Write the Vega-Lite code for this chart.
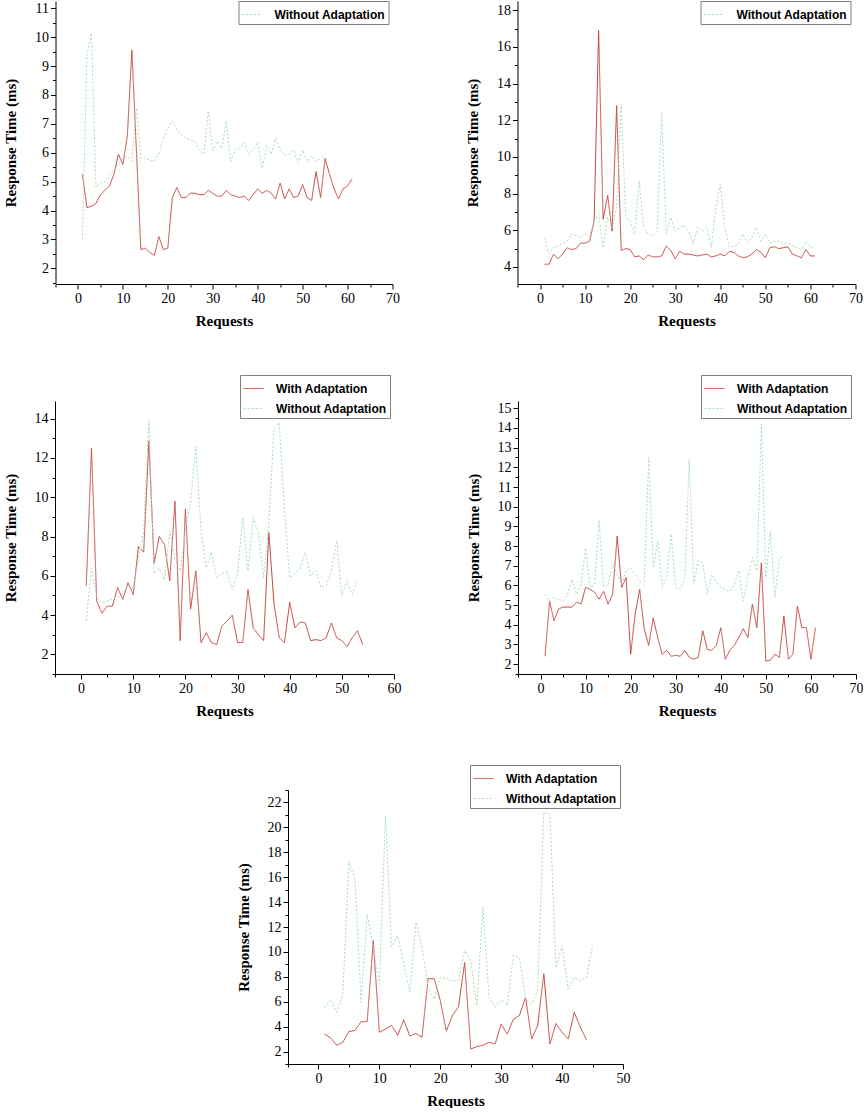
{
"$schema":"https://vega.github.io/schema/vega-lite/v6.json",
"padding":{"left":3,"top":0,"right":0,"bottom":0},
"background":"white",
"config":{"view":{"stroke":null},
 "axis":{"grid":false,"domainColor":"black","tickColor":"black","labelFont":"Liberation Serif","labelFontSize":14,"labelColor":"black","titleFont":"Liberation Serif","titleFontSize":15,"titleFontWeight":"bold","titleColor":"black","labelFlush":false,"labelOverlap":false,"labelPadding":2,"format":"d"},
 "axisY":{"titlePadding":16},"axisX":{"titlePadding":8},
 "legend":{"title":null,"symbolType":"stroke","symbolSize":400,"symbolStrokeWidth":1,"labelFont":"Liberation Sans","labelFontWeight":"bold","labelFontSize":12,"labelColor":"black","strokeColor":"#808080","fillColor":"white","padding":3,"rowPadding":3,"labelOffset":12}},
"datasets":{
"p1":[
{"request":1,"time":5.25,"series":"With Adaptation"},{"request":2,"time":4.1,"series":"With Adaptation"},{"request":3,"time":4.15,"series":"With Adaptation"},{"request":4,"time":4.25,"series":"With Adaptation"},{"request":5,"time":4.55,"series":"With Adaptation"},{"request":6,"time":4.7,"series":"With Adaptation"},{"request":7,"time":4.85,"series":"With Adaptation"},{"request":8,"time":5.25,"series":"With Adaptation"},{"request":9,"time":5.95,"series":"With Adaptation"},{"request":10,"time":5.6,"series":"With Adaptation"},{"request":11,"time":6.6,"series":"With Adaptation"},{"request":12,"time":9.55,"series":"With Adaptation"},{"request":13,"time":6.1,"series":"With Adaptation"},{"request":14,"time":2.65,"series":"With Adaptation"},{"request":15,"time":2.7,"series":"With Adaptation"},{"request":16,"time":2.55,"series":"With Adaptation"},{"request":17,"time":2.45,"series":"With Adaptation"},{"request":18,"time":3.1,"series":"With Adaptation"},{"request":19,"time":2.65,"series":"With Adaptation"},{"request":20,"time":2.7,"series":"With Adaptation"},{"request":21,"time":4.45,"series":"With Adaptation"},{"request":22,"time":4.8,"series":"With Adaptation"},{"request":23,"time":4.45,"series":"With Adaptation"},{"request":24,"time":4.45,"series":"With Adaptation"},{"request":25,"time":4.6,"series":"With Adaptation"},{"request":26,"time":4.6,"series":"With Adaptation"},{"request":27,"time":4.55,"series":"With Adaptation"},{"request":28,"time":4.55,"series":"With Adaptation"},{"request":29,"time":4.7,"series":"With Adaptation"},{"request":30,"time":4.6,"series":"With Adaptation"},{"request":31,"time":4.5,"series":"With Adaptation"},{"request":32,"time":4.5,"series":"With Adaptation"},{"request":33,"time":4.7,"series":"With Adaptation"},{"request":34,"time":4.55,"series":"With Adaptation"},{"request":35,"time":4.5,"series":"With Adaptation"},{"request":36,"time":4.45,"series":"With Adaptation"},{"request":37,"time":4.5,"series":"With Adaptation"},{"request":38,"time":4.35,"series":"With Adaptation"},{"request":39,"time":4.55,"series":"With Adaptation"},{"request":40,"time":4.75,"series":"With Adaptation"},{"request":41,"time":4.6,"series":"With Adaptation"},{"request":42,"time":4.7,"series":"With Adaptation"},{"request":43,"time":4.6,"series":"With Adaptation"},{"request":44,"time":4.4,"series":"With Adaptation"},{"request":45,"time":4.95,"series":"With Adaptation"},{"request":46,"time":4.4,"series":"With Adaptation"},{"request":47,"time":4.75,"series":"With Adaptation"},{"request":48,"time":4.45,"series":"With Adaptation"},{"request":49,"time":4.5,"series":"With Adaptation"},{"request":50,"time":4.9,"series":"With Adaptation"},{"request":51,"time":4.45,"series":"With Adaptation"},{"request":52,"time":4.35,"series":"With Adaptation"},{"request":53,"time":5.35,"series":"With Adaptation"},{"request":54,"time":4.45,"series":"With Adaptation"},{"request":55,"time":5.8,"series":"With Adaptation"},{"request":56,"time":5.25,"series":"With Adaptation"},{"request":57,"time":4.75,"series":"With Adaptation"},{"request":58,"time":4.4,"series":"With Adaptation"},{"request":59,"time":4.75,"series":"With Adaptation"},{"request":60,"time":4.85,"series":"With Adaptation"},{"request":61,"time":5.1,"series":"With Adaptation"},
{"request":1,"time":3.0,"series":"Without Adaptation"},{"request":2,"time":9.4,"series":"Without Adaptation"},{"request":3,"time":10.15,"series":"Without Adaptation"},{"request":4,"time":4.8,"series":"Without Adaptation"},{"request":5,"time":4.95,"series":"Without Adaptation"},{"request":6,"time":5.0,"series":"Without Adaptation"},{"request":7,"time":5.2,"series":"Without Adaptation"},{"request":8,"time":5.4,"series":"Without Adaptation"},{"request":9,"time":5.6,"series":"Without Adaptation"},{"request":10,"time":5.8,"series":"Without Adaptation"},{"request":11,"time":5.85,"series":"Without Adaptation"},{"request":12,"time":5.7,"series":"Without Adaptation"},{"request":13,"time":7.55,"series":"Without Adaptation"},{"request":14,"time":5.8,"series":"Without Adaptation"},{"request":15,"time":5.8,"series":"Without Adaptation"},{"request":16,"time":5.75,"series":"Without Adaptation"},{"request":17,"time":5.7,"series":"Without Adaptation"},{"request":18,"time":5.95,"series":"Without Adaptation"},{"request":19,"time":6.5,"series":"Without Adaptation"},{"request":20,"time":6.85,"series":"Without Adaptation"},{"request":21,"time":7.1,"series":"Without Adaptation"},{"request":22,"time":6.8,"series":"Without Adaptation"},{"request":23,"time":6.65,"series":"Without Adaptation"},{"request":24,"time":6.5,"series":"Without Adaptation"},{"request":25,"time":6.45,"series":"Without Adaptation"},{"request":26,"time":6.4,"series":"Without Adaptation"},{"request":27,"time":6.1,"series":"Without Adaptation"},{"request":28,"time":5.95,"series":"Without Adaptation"},{"request":29,"time":7.45,"series":"Without Adaptation"},{"request":30,"time":6.05,"series":"Without Adaptation"},{"request":31,"time":6.4,"series":"Without Adaptation"},{"request":32,"time":6.15,"series":"Without Adaptation"},{"request":33,"time":7.1,"series":"Without Adaptation"},{"request":34,"time":5.7,"series":"Without Adaptation"},{"request":35,"time":6.1,"series":"Without Adaptation"},{"request":36,"time":6.15,"series":"Without Adaptation"},{"request":37,"time":6.35,"series":"Without Adaptation"},{"request":38,"time":5.95,"series":"Without Adaptation"},{"request":39,"time":6.1,"series":"Without Adaptation"},{"request":40,"time":6.35,"series":"Without Adaptation"},{"request":41,"time":5.45,"series":"Without Adaptation"},{"request":42,"time":6.25,"series":"Without Adaptation"},{"request":43,"time":5.95,"series":"Without Adaptation"},{"request":44,"time":6.5,"series":"Without Adaptation"},{"request":45,"time":6.1,"series":"Without Adaptation"},{"request":46,"time":5.9,"series":"Without Adaptation"},{"request":47,"time":5.95,"series":"Without Adaptation"},{"request":48,"time":6.1,"series":"Without Adaptation"},{"request":49,"time":5.65,"series":"Without Adaptation"},{"request":50,"time":6.1,"series":"Without Adaptation"},{"request":51,"time":5.7,"series":"Without Adaptation"},{"request":52,"time":5.9,"series":"Without Adaptation"},{"request":53,"time":5.7,"series":"Without Adaptation"},{"request":54,"time":5.8,"series":"Without Adaptation"},{"request":55,"time":5.9,"series":"Without Adaptation"}
],
"p2":[
{"request":1,"time":4.15,"series":"With Adaptation"},{"request":2,"time":4.15,"series":"With Adaptation"},{"request":3,"time":4.7,"series":"With Adaptation"},{"request":4,"time":4.45,"series":"With Adaptation"},{"request":5,"time":4.7,"series":"With Adaptation"},{"request":6,"time":5.05,"series":"With Adaptation"},{"request":7,"time":4.95,"series":"With Adaptation"},{"request":8,"time":5.0,"series":"With Adaptation"},{"request":9,"time":5.3,"series":"With Adaptation"},{"request":10,"time":5.3,"series":"With Adaptation"},{"request":11,"time":5.4,"series":"With Adaptation"},{"request":12,"time":6.5,"series":"With Adaptation"},{"request":13,"time":16.9,"series":"With Adaptation"},{"request":14,"time":6.6,"series":"With Adaptation"},{"request":15,"time":7.9,"series":"With Adaptation"},{"request":16,"time":5.95,"series":"With Adaptation"},{"request":17,"time":12.8,"series":"With Adaptation"},{"request":18,"time":4.9,"series":"With Adaptation"},{"request":19,"time":5.0,"series":"With Adaptation"},{"request":20,"time":4.95,"series":"With Adaptation"},{"request":21,"time":4.55,"series":"With Adaptation"},{"request":22,"time":4.6,"series":"With Adaptation"},{"request":23,"time":4.4,"series":"With Adaptation"},{"request":24,"time":4.65,"series":"With Adaptation"},{"request":25,"time":4.55,"series":"With Adaptation"},{"request":26,"time":4.55,"series":"With Adaptation"},{"request":27,"time":4.6,"series":"With Adaptation"},{"request":28,"time":5.15,"series":"With Adaptation"},{"request":29,"time":4.9,"series":"With Adaptation"},{"request":30,"time":4.45,"series":"With Adaptation"},{"request":31,"time":4.85,"series":"With Adaptation"},{"request":32,"time":4.7,"series":"With Adaptation"},{"request":33,"time":4.7,"series":"With Adaptation"},{"request":34,"time":4.65,"series":"With Adaptation"},{"request":35,"time":4.6,"series":"With Adaptation"},{"request":36,"time":4.65,"series":"With Adaptation"},{"request":37,"time":4.7,"series":"With Adaptation"},{"request":38,"time":4.55,"series":"With Adaptation"},{"request":39,"time":4.6,"series":"With Adaptation"},{"request":40,"time":4.7,"series":"With Adaptation"},{"request":41,"time":4.6,"series":"With Adaptation"},{"request":42,"time":4.85,"series":"With Adaptation"},{"request":43,"time":4.8,"series":"With Adaptation"},{"request":44,"time":4.6,"series":"With Adaptation"},{"request":45,"time":4.5,"series":"With Adaptation"},{"request":46,"time":4.55,"series":"With Adaptation"},{"request":47,"time":4.7,"series":"With Adaptation"},{"request":48,"time":4.95,"series":"With Adaptation"},{"request":49,"time":4.8,"series":"With Adaptation"},{"request":50,"time":4.5,"series":"With Adaptation"},{"request":51,"time":5.05,"series":"With Adaptation"},{"request":52,"time":5.1,"series":"With Adaptation"},{"request":53,"time":5.0,"series":"With Adaptation"},{"request":54,"time":5.05,"series":"With Adaptation"},{"request":55,"time":5.1,"series":"With Adaptation"},{"request":56,"time":4.7,"series":"With Adaptation"},{"request":57,"time":4.6,"series":"With Adaptation"},{"request":58,"time":4.5,"series":"With Adaptation"},{"request":59,"time":4.95,"series":"With Adaptation"},{"request":60,"time":4.6,"series":"With Adaptation"},{"request":61,"time":4.6,"series":"With Adaptation"},
{"request":1,"time":5.6,"series":"Without Adaptation"},{"request":2,"time":4.7,"series":"Without Adaptation"},{"request":3,"time":5.05,"series":"Without Adaptation"},{"request":4,"time":5.15,"series":"Without Adaptation"},{"request":5,"time":5.25,"series":"Without Adaptation"},{"request":6,"time":5.4,"series":"Without Adaptation"},{"request":7,"time":5.8,"series":"Without Adaptation"},{"request":8,"time":5.7,"series":"Without Adaptation"},{"request":9,"time":5.6,"series":"Without Adaptation"},{"request":10,"time":5.8,"series":"Without Adaptation"},{"request":11,"time":5.7,"series":"Without Adaptation"},{"request":12,"time":6.5,"series":"Without Adaptation"},{"request":13,"time":6.9,"series":"Without Adaptation"},{"request":14,"time":5.05,"series":"Without Adaptation"},{"request":15,"time":6.7,"series":"Without Adaptation"},{"request":16,"time":6.15,"series":"Without Adaptation"},{"request":17,"time":7.25,"series":"Without Adaptation"},{"request":18,"time":12.9,"series":"Without Adaptation"},{"request":19,"time":6.7,"series":"Without Adaptation"},{"request":20,"time":6.5,"series":"Without Adaptation"},{"request":21,"time":5.8,"series":"Without Adaptation"},{"request":22,"time":8.7,"series":"Without Adaptation"},{"request":23,"time":6.15,"series":"Without Adaptation"},{"request":24,"time":5.8,"series":"Without Adaptation"},{"request":25,"time":5.7,"series":"Without Adaptation"},{"request":26,"time":5.95,"series":"Without Adaptation"},{"request":27,"time":12.4,"series":"Without Adaptation"},{"request":28,"time":5.8,"series":"Without Adaptation"},{"request":29,"time":6.7,"series":"Without Adaptation"},{"request":30,"time":5.95,"series":"Without Adaptation"},{"request":31,"time":6.15,"series":"Without Adaptation"},{"request":32,"time":6.25,"series":"Without Adaptation"},{"request":33,"time":5.95,"series":"Without Adaptation"},{"request":34,"time":5.25,"series":"Without Adaptation"},{"request":35,"time":6.15,"series":"Without Adaptation"},{"request":36,"time":5.95,"series":"Without Adaptation"},{"request":37,"time":6.15,"series":"Without Adaptation"},{"request":38,"time":5.05,"series":"Without Adaptation"},{"request":39,"time":7.25,"series":"Without Adaptation"},{"request":40,"time":8.5,"series":"Without Adaptation"},{"request":41,"time":6.15,"series":"Without Adaptation"},{"request":42,"time":5.05,"series":"Without Adaptation"},{"request":43,"time":5.15,"series":"Without Adaptation"},{"request":44,"time":5.25,"series":"Without Adaptation"},{"request":45,"time":5.8,"series":"Without Adaptation"},{"request":46,"time":5.3,"series":"Without Adaptation"},{"request":47,"time":5.6,"series":"Without Adaptation"},{"request":48,"time":6.15,"series":"Without Adaptation"},{"request":49,"time":5.4,"series":"Without Adaptation"},{"request":50,"time":5.8,"series":"Without Adaptation"},{"request":51,"time":5.3,"series":"Without Adaptation"},{"request":52,"time":5.4,"series":"Without Adaptation"},{"request":53,"time":5.4,"series":"Without Adaptation"},{"request":54,"time":5.25,"series":"Without Adaptation"},{"request":55,"time":5.3,"series":"Without Adaptation"},{"request":56,"time":5.15,"series":"Without Adaptation"},{"request":57,"time":5.05,"series":"Without Adaptation"},{"request":58,"time":4.95,"series":"Without Adaptation"},{"request":59,"time":5.4,"series":"Without Adaptation"},{"request":60,"time":5.05,"series":"Without Adaptation"},{"request":61,"time":5.15,"series":"Without Adaptation"}
],
"p3":[
{"request":1,"time":5.5,"series":"With Adaptation"},{"request":2,"time":12.5,"series":"With Adaptation"},{"request":3,"time":4.7,"series":"With Adaptation"},{"request":4,"time":4.1,"series":"With Adaptation"},{"request":5,"time":4.45,"series":"With Adaptation"},{"request":6,"time":4.45,"series":"With Adaptation"},{"request":7,"time":5.4,"series":"With Adaptation"},{"request":8,"time":4.8,"series":"With Adaptation"},{"request":9,"time":5.65,"series":"With Adaptation"},{"request":10,"time":5.05,"series":"With Adaptation"},{"request":11,"time":7.5,"series":"With Adaptation"},{"request":12,"time":7.2,"series":"With Adaptation"},{"request":13,"time":12.85,"series":"With Adaptation"},{"request":14,"time":6.65,"series":"With Adaptation"},{"request":15,"time":8.0,"series":"With Adaptation"},{"request":16,"time":7.6,"series":"With Adaptation"},{"request":17,"time":5.75,"series":"With Adaptation"},{"request":18,"time":9.8,"series":"With Adaptation"},{"request":19,"time":2.7,"series":"With Adaptation"},{"request":20,"time":9.4,"series":"With Adaptation"},{"request":21,"time":4.3,"series":"With Adaptation"},{"request":22,"time":6.25,"series":"With Adaptation"},{"request":23,"time":2.6,"series":"With Adaptation"},{"request":24,"time":3.1,"series":"With Adaptation"},{"request":25,"time":2.6,"series":"With Adaptation"},{"request":26,"time":2.5,"series":"With Adaptation"},{"request":27,"time":3.45,"series":"With Adaptation"},{"request":28,"time":3.7,"series":"With Adaptation"},{"request":29,"time":4.0,"series":"With Adaptation"},{"request":30,"time":2.6,"series":"With Adaptation"},{"request":31,"time":2.6,"series":"With Adaptation"},{"request":32,"time":5.3,"series":"With Adaptation"},{"request":33,"time":3.35,"series":"With Adaptation"},{"request":34,"time":3.0,"series":"With Adaptation"},{"request":35,"time":2.7,"series":"With Adaptation"},{"request":36,"time":8.2,"series":"With Adaptation"},{"request":37,"time":4.55,"series":"With Adaptation"},{"request":38,"time":2.85,"series":"With Adaptation"},{"request":39,"time":2.6,"series":"With Adaptation"},{"request":40,"time":4.65,"series":"With Adaptation"},{"request":41,"time":3.35,"series":"With Adaptation"},{"request":42,"time":3.65,"series":"With Adaptation"},{"request":43,"time":3.6,"series":"With Adaptation"},{"request":44,"time":2.7,"series":"With Adaptation"},{"request":45,"time":2.75,"series":"With Adaptation"},{"request":46,"time":2.7,"series":"With Adaptation"},{"request":47,"time":2.85,"series":"With Adaptation"},{"request":48,"time":3.6,"series":"With Adaptation"},{"request":49,"time":2.85,"series":"With Adaptation"},{"request":50,"time":2.7,"series":"With Adaptation"},{"request":51,"time":2.4,"series":"With Adaptation"},{"request":52,"time":2.85,"series":"With Adaptation"},{"request":53,"time":3.2,"series":"With Adaptation"},{"request":54,"time":2.5,"series":"With Adaptation"},
{"request":1,"time":3.7,"series":"Without Adaptation"},{"request":2,"time":6.4,"series":"Without Adaptation"},{"request":3,"time":4.9,"series":"Without Adaptation"},{"request":4,"time":4.6,"series":"Without Adaptation"},{"request":5,"time":4.7,"series":"Without Adaptation"},{"request":6,"time":4.8,"series":"Without Adaptation"},{"request":7,"time":4.9,"series":"Without Adaptation"},{"request":8,"time":5.05,"series":"Without Adaptation"},{"request":9,"time":5.5,"series":"Without Adaptation"},{"request":10,"time":5.4,"series":"Without Adaptation"},{"request":11,"time":6.9,"series":"Without Adaptation"},{"request":12,"time":8.3,"series":"Without Adaptation"},{"request":13,"time":13.9,"series":"Without Adaptation"},{"request":14,"time":6.1,"series":"Without Adaptation"},{"request":15,"time":6.4,"series":"Without Adaptation"},{"request":16,"time":5.8,"series":"Without Adaptation"},{"request":17,"time":8.3,"series":"Without Adaptation"},{"request":18,"time":6.9,"series":"Without Adaptation"},{"request":19,"time":6.25,"series":"Without Adaptation"},{"request":20,"time":8.3,"series":"Without Adaptation"},{"request":21,"time":9.8,"series":"Without Adaptation"},{"request":22,"time":12.6,"series":"Without Adaptation"},{"request":23,"time":8.3,"series":"Without Adaptation"},{"request":24,"time":6.4,"series":"Without Adaptation"},{"request":25,"time":7.2,"series":"Without Adaptation"},{"request":26,"time":5.9,"series":"Without Adaptation"},{"request":27,"time":6.1,"series":"Without Adaptation"},{"request":28,"time":6.25,"series":"Without Adaptation"},{"request":29,"time":5.3,"series":"Without Adaptation"},{"request":30,"time":6.1,"series":"Without Adaptation"},{"request":31,"time":8.95,"series":"Without Adaptation"},{"request":32,"time":6.25,"series":"Without Adaptation"},{"request":33,"time":8.95,"series":"Without Adaptation"},{"request":34,"time":8.2,"series":"Without Adaptation"},{"request":35,"time":5.9,"series":"Without Adaptation"},{"request":36,"time":8.6,"series":"Without Adaptation"},{"request":37,"time":13.5,"series":"Without Adaptation"},{"request":38,"time":13.8,"series":"Without Adaptation"},{"request":39,"time":9.3,"series":"Without Adaptation"},{"request":40,"time":5.9,"series":"Without Adaptation"},{"request":41,"time":6.1,"series":"Without Adaptation"},{"request":42,"time":6.4,"series":"Without Adaptation"},{"request":43,"time":7.2,"series":"Without Adaptation"},{"request":44,"time":6.0,"series":"Without Adaptation"},{"request":45,"time":6.25,"series":"Without Adaptation"},{"request":46,"time":5.4,"series":"Without Adaptation"},{"request":47,"time":5.5,"series":"Without Adaptation"},{"request":48,"time":6.25,"series":"Without Adaptation"},{"request":49,"time":7.8,"series":"Without Adaptation"},{"request":50,"time":5.0,"series":"Without Adaptation"},{"request":51,"time":5.75,"series":"Without Adaptation"},{"request":52,"time":5.05,"series":"Without Adaptation"},{"request":53,"time":5.8,"series":"Without Adaptation"}
],
"p4":[
{"request":1,"time":2.4,"series":"With Adaptation"},{"request":2,"time":5.2,"series":"With Adaptation"},{"request":3,"time":4.2,"series":"With Adaptation"},{"request":4,"time":4.8,"series":"With Adaptation"},{"request":5,"time":4.9,"series":"With Adaptation"},{"request":6,"time":4.9,"series":"With Adaptation"},{"request":7,"time":4.9,"series":"With Adaptation"},{"request":8,"time":5.15,"series":"With Adaptation"},{"request":9,"time":5.05,"series":"With Adaptation"},{"request":10,"time":5.9,"series":"With Adaptation"},{"request":11,"time":5.8,"series":"With Adaptation"},{"request":12,"time":5.65,"series":"With Adaptation"},{"request":13,"time":5.3,"series":"With Adaptation"},{"request":14,"time":5.7,"series":"With Adaptation"},{"request":15,"time":5.05,"series":"With Adaptation"},{"request":16,"time":5.55,"series":"With Adaptation"},{"request":17,"time":8.5,"series":"With Adaptation"},{"request":18,"time":5.9,"series":"With Adaptation"},{"request":19,"time":6.4,"series":"With Adaptation"},{"request":20,"time":2.5,"series":"With Adaptation"},{"request":21,"time":4.55,"series":"With Adaptation"},{"request":22,"time":5.8,"series":"With Adaptation"},{"request":23,"time":3.8,"series":"With Adaptation"},{"request":24,"time":2.95,"series":"With Adaptation"},{"request":25,"time":4.35,"series":"With Adaptation"},{"request":26,"time":3.35,"series":"With Adaptation"},{"request":27,"time":2.5,"series":"With Adaptation"},{"request":28,"time":2.7,"series":"With Adaptation"},{"request":29,"time":2.4,"series":"With Adaptation"},{"request":30,"time":2.45,"series":"With Adaptation"},{"request":31,"time":2.4,"series":"With Adaptation"},{"request":32,"time":2.7,"series":"With Adaptation"},{"request":33,"time":2.35,"series":"With Adaptation"},{"request":34,"time":2.25,"series":"With Adaptation"},{"request":35,"time":2.35,"series":"With Adaptation"},{"request":36,"time":3.7,"series":"With Adaptation"},{"request":37,"time":2.75,"series":"With Adaptation"},{"request":38,"time":2.7,"series":"With Adaptation"},{"request":39,"time":2.95,"series":"With Adaptation"},{"request":40,"time":3.85,"series":"With Adaptation"},{"request":41,"time":2.25,"series":"With Adaptation"},{"request":42,"time":2.7,"series":"With Adaptation"},{"request":43,"time":2.95,"series":"With Adaptation"},{"request":44,"time":3.35,"series":"With Adaptation"},{"request":45,"time":3.8,"series":"With Adaptation"},{"request":46,"time":3.35,"series":"With Adaptation"},{"request":47,"time":5.05,"series":"With Adaptation"},{"request":48,"time":3.85,"series":"With Adaptation"},{"request":49,"time":7.15,"series":"With Adaptation"},{"request":50,"time":2.15,"series":"With Adaptation"},{"request":51,"time":2.2,"series":"With Adaptation"},{"request":52,"time":2.5,"series":"With Adaptation"},{"request":53,"time":2.35,"series":"With Adaptation"},{"request":54,"time":4.45,"series":"With Adaptation"},{"request":55,"time":2.25,"series":"With Adaptation"},{"request":56,"time":2.5,"series":"With Adaptation"},{"request":57,"time":4.95,"series":"With Adaptation"},{"request":58,"time":3.85,"series":"With Adaptation"},{"request":59,"time":3.85,"series":"With Adaptation"},{"request":60,"time":2.25,"series":"With Adaptation"},{"request":61,"time":3.85,"series":"With Adaptation"},
{"request":1,"time":5.55,"series":"Without Adaptation"},{"request":2,"time":5.2,"series":"Without Adaptation"},{"request":3,"time":5.4,"series":"Without Adaptation"},{"request":4,"time":5.3,"series":"Without Adaptation"},{"request":5,"time":5.2,"series":"Without Adaptation"},{"request":6,"time":5.55,"series":"Without Adaptation"},{"request":7,"time":6.3,"series":"Without Adaptation"},{"request":8,"time":5.55,"series":"Without Adaptation"},{"request":9,"time":6.05,"series":"Without Adaptation"},{"request":10,"time":7.9,"series":"Without Adaptation"},{"request":11,"time":5.9,"series":"Without Adaptation"},{"request":12,"time":6.05,"series":"Without Adaptation"},{"request":13,"time":9.3,"series":"Without Adaptation"},{"request":14,"time":5.9,"series":"Without Adaptation"},{"request":15,"time":6.05,"series":"Without Adaptation"},{"request":16,"time":7.1,"series":"Without Adaptation"},{"request":17,"time":6.55,"series":"Without Adaptation"},{"request":18,"time":6.05,"series":"Without Adaptation"},{"request":19,"time":6.75,"series":"Without Adaptation"},{"request":20,"time":6.9,"series":"Without Adaptation"},{"request":21,"time":6.55,"series":"Without Adaptation"},{"request":22,"time":6.2,"series":"Without Adaptation"},{"request":23,"time":6.05,"series":"Without Adaptation"},{"request":24,"time":12.5,"series":"Without Adaptation"},{"request":25,"time":6.9,"series":"Without Adaptation"},{"request":26,"time":8.25,"series":"Without Adaptation"},{"request":27,"time":5.9,"series":"Without Adaptation"},{"request":28,"time":6.4,"series":"Without Adaptation"},{"request":29,"time":8.6,"series":"Without Adaptation"},{"request":30,"time":5.9,"series":"Without Adaptation"},{"request":31,"time":5.8,"series":"Without Adaptation"},{"request":32,"time":6.3,"series":"Without Adaptation"},{"request":33,"time":12.4,"series":"Without Adaptation"},{"request":34,"time":6.05,"series":"Without Adaptation"},{"request":35,"time":7.25,"series":"Without Adaptation"},{"request":36,"time":7.15,"series":"Without Adaptation"},{"request":37,"time":5.55,"series":"Without Adaptation"},{"request":38,"time":6.55,"series":"Without Adaptation"},{"request":39,"time":6.2,"series":"Without Adaptation"},{"request":40,"time":5.9,"series":"Without Adaptation"},{"request":41,"time":5.8,"series":"Without Adaptation"},{"request":42,"time":5.7,"series":"Without Adaptation"},{"request":43,"time":6.05,"series":"Without Adaptation"},{"request":44,"time":6.75,"series":"Without Adaptation"},{"request":45,"time":5.2,"series":"Without Adaptation"},{"request":46,"time":6.4,"series":"Without Adaptation"},{"request":47,"time":7.4,"series":"Without Adaptation"},{"request":48,"time":6.75,"series":"Without Adaptation"},{"request":49,"time":14.2,"series":"Without Adaptation"},{"request":50,"time":6.4,"series":"Without Adaptation"},{"request":51,"time":8.75,"series":"Without Adaptation"},{"request":52,"time":5.4,"series":"Without Adaptation"},{"request":53,"time":7.4,"series":"Without Adaptation"},{"request":54,"time":7.5,"series":"Without Adaptation"}
],
"p5":[
{"request":1,"time":3.4,"series":"With Adaptation"},{"request":2,"time":3.1,"series":"With Adaptation"},{"request":3,"time":2.5,"series":"With Adaptation"},{"request":4,"time":2.75,"series":"With Adaptation"},{"request":5,"time":3.6,"series":"With Adaptation"},{"request":6,"time":3.7,"series":"With Adaptation"},{"request":7,"time":4.4,"series":"With Adaptation"},{"request":8,"time":4.4,"series":"With Adaptation"},{"request":9,"time":10.9,"series":"With Adaptation"},{"request":10,"time":3.55,"series":"With Adaptation"},{"request":11,"time":3.8,"series":"With Adaptation"},{"request":12,"time":4.1,"series":"With Adaptation"},{"request":13,"time":3.3,"series":"With Adaptation"},{"request":14,"time":4.55,"series":"With Adaptation"},{"request":15,"time":3.25,"series":"With Adaptation"},{"request":16,"time":3.45,"series":"With Adaptation"},{"request":17,"time":3.15,"series":"With Adaptation"},{"request":18,"time":7.85,"series":"With Adaptation"},{"request":19,"time":7.85,"series":"With Adaptation"},{"request":20,"time":6.1,"series":"With Adaptation"},{"request":21,"time":3.65,"series":"With Adaptation"},{"request":22,"time":4.9,"series":"With Adaptation"},{"request":23,"time":5.6,"series":"With Adaptation"},{"request":24,"time":9.15,"series":"With Adaptation"},{"request":25,"time":2.2,"series":"With Adaptation"},{"request":26,"time":2.4,"series":"With Adaptation"},{"request":27,"time":2.5,"series":"With Adaptation"},{"request":28,"time":2.75,"series":"With Adaptation"},{"request":29,"time":2.6,"series":"With Adaptation"},{"request":30,"time":4.2,"series":"With Adaptation"},{"request":31,"time":3.4,"series":"With Adaptation"},{"request":32,"time":4.6,"series":"With Adaptation"},{"request":33,"time":4.9,"series":"With Adaptation"},{"request":34,"time":6.35,"series":"With Adaptation"},{"request":35,"time":3.0,"series":"With Adaptation"},{"request":36,"time":4.1,"series":"With Adaptation"},{"request":37,"time":8.25,"series":"With Adaptation"},{"request":38,"time":2.6,"series":"With Adaptation"},{"request":39,"time":4.25,"series":"With Adaptation"},{"request":40,"time":3.55,"series":"With Adaptation"},{"request":41,"time":3.0,"series":"With Adaptation"},{"request":42,"time":5.15,"series":"With Adaptation"},{"request":43,"time":3.95,"series":"With Adaptation"},{"request":44,"time":2.95,"series":"With Adaptation"},
{"request":1,"time":5.55,"series":"Without Adaptation"},{"request":2,"time":6.2,"series":"Without Adaptation"},{"request":3,"time":5.15,"series":"Without Adaptation"},{"request":4,"time":6.6,"series":"Without Adaptation"},{"request":5,"time":17.2,"series":"Without Adaptation"},{"request":6,"time":15.85,"series":"Without Adaptation"},{"request":7,"time":5.95,"series":"Without Adaptation"},{"request":8,"time":13.05,"series":"Without Adaptation"},{"request":9,"time":10.4,"series":"Without Adaptation"},{"request":10,"time":7.4,"series":"Without Adaptation"},{"request":11,"time":20.95,"series":"Without Adaptation"},{"request":12,"time":10.4,"series":"Without Adaptation"},{"request":13,"time":11.3,"series":"Without Adaptation"},{"request":14,"time":9.05,"series":"Without Adaptation"},{"request":15,"time":6.75,"series":"Without Adaptation"},{"request":16,"time":12.4,"series":"Without Adaptation"},{"request":17,"time":10.4,"series":"Without Adaptation"},{"request":18,"time":7.15,"series":"Without Adaptation"},{"request":19,"time":6.2,"series":"Without Adaptation"},{"request":20,"time":7.95,"series":"Without Adaptation"},{"request":21,"time":7.85,"series":"Without Adaptation"},{"request":22,"time":7.7,"series":"Without Adaptation"},{"request":23,"time":7.7,"series":"Without Adaptation"},{"request":24,"time":10.1,"series":"Without Adaptation"},{"request":25,"time":9.3,"series":"Without Adaptation"},{"request":26,"time":5.7,"series":"Without Adaptation"},{"request":27,"time":13.6,"series":"Without Adaptation"},{"request":28,"time":6.35,"series":"Without Adaptation"},{"request":29,"time":5.55,"series":"Without Adaptation"},{"request":30,"time":6.2,"series":"Without Adaptation"},{"request":31,"time":5.7,"series":"Without Adaptation"},{"request":32,"time":9.7,"series":"Without Adaptation"},{"request":33,"time":9.55,"series":"Without Adaptation"},{"request":34,"time":6.2,"series":"Without Adaptation"},{"request":35,"time":5.8,"series":"Without Adaptation"},{"request":36,"time":6.9,"series":"Without Adaptation"},{"request":37,"time":21.2,"series":"Without Adaptation"},{"request":38,"time":21.05,"series":"Without Adaptation"},{"request":39,"time":8.75,"series":"Without Adaptation"},{"request":40,"time":10.5,"series":"Without Adaptation"},{"request":41,"time":7.0,"series":"Without Adaptation"},{"request":42,"time":7.95,"series":"Without Adaptation"},{"request":43,"time":7.7,"series":"Without Adaptation"},{"request":44,"time":7.95,"series":"Without Adaptation"},{"request":45,"time":10.5,"series":"Without Adaptation"}
]
},
"vconcat":[
{"hconcat":[
 {"width":337,"height":283,"data":{"name":"p1"},
  "mark":{"type":"line","strokeWidth":1,"clip":true},
  "encoding":{
   "x":{"field":"request","type":"quantitative","scale":{"domain":[-5,70],"nice":false,"zero":false},"axis":{"title":"Requests","values":[-5,0,5,10,15,20,25,30,35,40,45,50,55,60,65,70],"labelExpr":"datum.value % 10 === 0 ? datum.label : ''","tickSize":{"condition":{"test":"datum.value % 10 === 0","value":5},"value":3}}},
   "y":{"field":"time","type":"quantitative","scale":{"domain":[1.46,11.25],"nice":false,"zero":false},"axis":{"title":"Response Time (ms)","values":[1.5,2,2.5,3,3.5,4,4.5,5,5.5,6,6.5,7,7.5,8,8.5,9,9.5,10,10.5,11],"labelExpr":"datum.value % 1 === 0 ? datum.label : ''","tickSize":{"condition":{"test":"datum.value % 1 === 0","value":5},"value":3}}},
   "color":{"field":"series","type":"nominal","scale":{"domain":["With Adaptation","Without Adaptation"],"range":["#c4453e","#a8dcba"]},"legend":{"values":["Without Adaptation"],"orient":"none","legendX":183,"legendY":0}},
   "strokeDash":{"field":"series","type":"nominal","scale":{"domain":["With Adaptation","Without Adaptation"],"range":[[1,0],[2,2]]},"legend":{"values":["Without Adaptation"],"orient":"none","legendX":183,"legendY":0}}
  }},
 {"width":338,"height":283,"data":{"name":"p2"},
  "mark":{"type":"line","strokeWidth":1,"clip":true},
  "encoding":{
   "x":{"field":"request","type":"quantitative","scale":{"domain":[-5,70],"nice":false,"zero":false},"axis":{"title":"Requests","values":[-5,0,5,10,15,20,25,30,35,40,45,50,55,60,65,70],"labelExpr":"datum.value % 10 === 0 ? datum.label : ''","tickSize":{"condition":{"test":"datum.value % 10 === 0","value":5},"value":3}}},
   "y":{"field":"time","type":"quantitative","scale":{"domain":[3.07,18.5],"nice":false,"zero":false},"axis":{"title":"Response Time (ms)","values":[4,5,6,7,8,9,10,11,12,13,14,15,16,17,18],"labelExpr":"datum.value % 2 === 0 ? datum.label : ''","tickSize":{"condition":{"test":"datum.value % 2 === 0","value":5},"value":3}}},
   "color":{"field":"series","type":"nominal","scale":{"domain":["With Adaptation","Without Adaptation"],"range":["#c4453e","#a8dcba"]},"legend":{"values":["Without Adaptation"],"orient":"none","legendX":183,"legendY":0}},
   "strokeDash":{"field":"series","type":"nominal","scale":{"domain":["With Adaptation","Without Adaptation"],"range":[[1,0],[2,2]]},"legend":{"values":["Without Adaptation"],"orient":"none","legendX":183,"legendY":0}}
  }}
 ],"spacing":66,"resolve":{"legend":{"color":"independent","strokeDash":"independent"}}},
{"hconcat":[
 {"width":339,"height":273,"data":{"name":"p3"},
  "mark":{"type":"line","strokeWidth":1,"clip":true},
  "encoding":{
   "x":{"field":"request","type":"quantitative","scale":{"domain":[-5,60],"nice":false,"zero":false},"axis":{"title":"Requests","values":[-5,0,5,10,15,20,25,30,35,40,45,50,55,60],"labelExpr":"datum.value % 10 === 0 ? datum.label : ''","tickSize":{"condition":{"test":"datum.value % 10 === 0","value":5},"value":3}}},
   "y":{"field":"time","type":"quantitative","scale":{"domain":[1,14.9],"nice":false,"zero":false},"axis":{"title":"Response Time (ms)","values":[1,2,3,4,5,6,7,8,9,10,11,12,13,14],"labelExpr":"datum.value % 2 === 0 ? datum.label : ''","tickSize":{"condition":{"test":"datum.value % 2 === 0","value":5},"value":3}}},
   "color":{"field":"series","type":"nominal","scale":{"domain":["With Adaptation","Without Adaptation"],"range":["#c4453e","#a8dcba"]},"legend":{"orient":"none","legendX":185,"legendY":-26}},
   "strokeDash":{"field":"series","type":"nominal","scale":{"domain":["With Adaptation","Without Adaptation"],"range":[[1,0],[2,2]]},"legend":{"orient":"none","legendX":185,"legendY":-26}}
  }},
 {"width":338,"height":273,"data":{"name":"p4"},
  "mark":{"type":"line","strokeWidth":1,"clip":true},
  "encoding":{
   "x":{"field":"request","type":"quantitative","scale":{"domain":[-5,70],"nice":false,"zero":false},"axis":{"title":"Requests","values":[-5,0,5,10,15,20,25,30,35,40,45,50,55,60,65,70],"labelExpr":"datum.value % 10 === 0 ? datum.label : ''","tickSize":{"condition":{"test":"datum.value % 10 === 0","value":5},"value":3}}},
   "y":{"field":"time","type":"quantitative","scale":{"domain":[1.5,15.37],"nice":false,"zero":false},"axis":{"title":"Response Time (ms)","values":[1.5,2,2.5,3,3.5,4,4.5,5,5.5,6,6.5,7,7.5,8,8.5,9,9.5,10,10.5,11,11.5,12,12.5,13,13.5,14,14.5,15],"labelExpr":"datum.value % 1 === 0 ? datum.label : ''","tickSize":{"condition":{"test":"datum.value % 1 === 0","value":5},"value":3}}},
   "color":{"field":"series","type":"nominal","scale":{"domain":["With Adaptation","Without Adaptation"],"range":["#c4453e","#a8dcba"]},"legend":{"orient":"none","legendX":183,"legendY":-26}},
   "strokeDash":{"field":"series","type":"nominal","scale":{"domain":["With Adaptation","Without Adaptation"],"range":[[1,0],[2,2]]},"legend":{"orient":"none","legendX":183,"legendY":-26}}
  }}
 ],"spacing":65,"resolve":{"legend":{"color":"independent","strokeDash":"independent"}}},
{"width":335,"height":274,"data":{"name":"p5"},
  "mark":{"type":"line","strokeWidth":1,"clip":true},
  "encoding":{
   "x":{"field":"request","type":"quantitative","scale":{"domain":[-5,50],"nice":false,"zero":false},"axis":{"title":"Requests","values":[-5,0,5,10,15,20,25,30,35,40,45,50],"labelExpr":"datum.value % 10 === 0 ? datum.label : ''","tickSize":{"condition":{"test":"datum.value % 10 === 0","value":5},"value":3}}},
   "y":{"field":"time","type":"quantitative","scale":{"domain":[1,23],"nice":false,"zero":false},"axis":{"title":"Response Time (ms)","values":[1,2,3,4,5,6,7,8,9,10,11,12,13,14,15,16,17,18,19,20,21,22,23],"labelExpr":"datum.value % 2 === 0 ? datum.label : ''","tickSize":{"condition":{"test":"datum.value % 2 === 0","value":5},"value":3}}},
   "color":{"field":"series","type":"nominal","scale":{"domain":["With Adaptation","Without Adaptation"],"range":["#c4453e","#a8dcba"]},"legend":{"orient":"none","legendX":182,"legendY":-25}},
   "strokeDash":{"field":"series","type":"nominal","scale":{"domain":["With Adaptation","Without Adaptation"],"range":[[1,0],[2,2]]},"legend":{"orient":"none","legendX":182,"legendY":-25}}
  }}
],
"spacing":46,
"center":true,
"resolve":{"legend":{"color":"independent","strokeDash":"independent"}}
}
